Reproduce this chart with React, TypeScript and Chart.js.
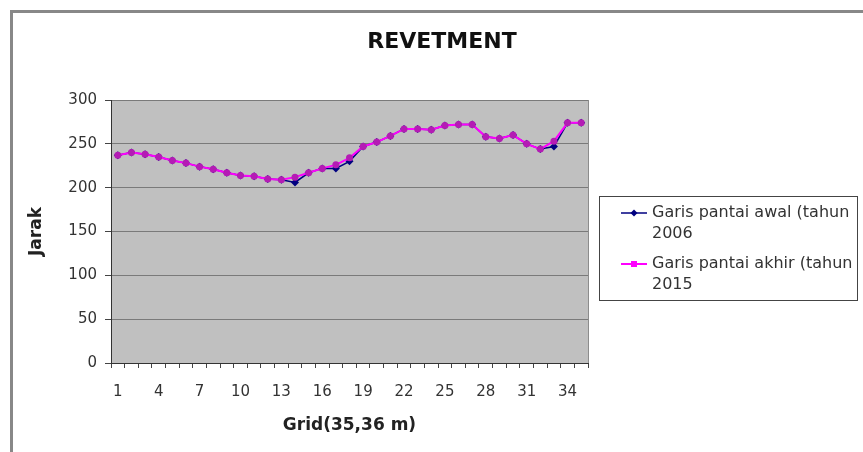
import React, { useEffect, useRef } from "react";
import { Chart, registerables } from "chart.js";

Chart.register(...registerables);

// Chart texts
const chartTitle = "REVETMENT";
const xAxisTitle = "Grid(35,36 m)";
const yAxisTitle = "Jarak";

// Grid numbers along the shoreline
const categories = [
  "1", "2", "3", "4", "5", "6", "7", "8", "9", "10",
  "11", "12", "13", "14", "15", "16", "17", "18", "19", "20",
  "21", "22", "23", "24", "25", "26", "27", "28", "29", "30",
  "31", "32", "33", "34", "35",
];

// Shoreline distance, initial survey (2006)
const awal2006 = [
  237, 240, 238, 235, 231, 228, 224, 221, 217, 214,
  213, 210, 209, 206, 217, 222, 222, 230, 247, 252,
  259, 267, 267, 266, 271, 272, 272, 258, 256, 260,
  250, 244, 247, 274, 274,
];

// Shoreline distance, final survey (2015)
const akhir2015 = [
  237, 240, 238, 235, 231, 228, 224, 221, 217, 214,
  213, 210, 209, 212, 217, 222, 226, 234, 247, 252,
  259, 267, 267, 266, 271, 272, 272, 258, 256, 260,
  250, 244, 253, 274, 274,
];

// Legend entries, each wrapped over two lines
const legendAwal = ["Garis pantai awal (tahun", "2006"];
const legendAkhir = ["Garis pantai akhir (tahun", "2015"];

// Value axis range
const yMin = 0;
const yMax = 300;
const yStep = 50;
const labelEvery = 3;

const FONT = "'DejaVu Sans', 'Liberation Sans', Arial, sans-serif";

const decorations = {
  id: "decorations",
  beforeDatasetsDraw(chart: any) {
    // grey plot background is painted before grid lines
  },
  beforeDraw(chart: any) {
    const { ctx, chartArea: a } = chart;
    ctx.save();
    ctx.fillStyle = "#c0c0c0";
    ctx.fillRect(a.left, a.top, a.right - a.left, a.bottom - a.top);
    ctx.strokeStyle = "#8c8c8c";
    ctx.lineWidth = 1;
    ctx.beginPath();
    ctx.moveTo(a.right + 0.5, a.top);
    ctx.lineTo(a.right + 0.5, a.bottom);
    ctx.stroke();
    ctx.restore();
  },
  afterDraw(chart: any) {
    const { ctx, chartArea: a } = chart;
    ctx.save();

    // chart title, centred over the whole frame
    ctx.fillStyle = "#111";
    ctx.font = `bold 22px ${FONT}`;
    ctx.textAlign = "center";
    ctx.textBaseline = "middle";
    ctx.fillText(chartTitle, 442, 42);

    // legend box
    const boxL = a.right + 11;
    const boxT = 196;
    const boxW = 258;
    const boxH = 104;
    ctx.fillStyle = "#ffffff";
    ctx.fillRect(boxL, boxT, boxW, boxH);
    ctx.strokeStyle = "#444";
    ctx.lineWidth = 1;
    ctx.strokeRect(boxL + 0.5, boxT + 0.5, boxW, boxH);

    const entries = [
      { lines: legendAwal, ds: chart.data.datasets[0] },
      { lines: legendAkhir, ds: chart.data.datasets[1] },
    ];
    entries.forEach((e, i) => {
      const y = boxT + 17 + i * 51;
      const x0 = boxL + 22;
      const x1 = boxL + 48;
      ctx.strokeStyle = e.ds.borderColor;
      ctx.lineWidth = e.ds.borderWidth;
      ctx.beginPath();
      ctx.moveTo(x0, y);
      ctx.lineTo(x1, y);
      ctx.stroke();
      const cx = (x0 + x1) / 2;
      ctx.fillStyle = e.ds.legendMarker;
      if (e.ds.pointStyle === "rectRot") {
        ctx.beginPath();
        ctx.moveTo(cx, y - 3.5);
        ctx.lineTo(cx + 3.5, y);
        ctx.lineTo(cx, y + 3.5);
        ctx.lineTo(cx - 3.5, y);
        ctx.closePath();
        ctx.fill();
      } else {
        ctx.fillRect(cx - 3, y - 3, 6, 6);
      }
      ctx.fillStyle = "#333";
      ctx.font = `16px ${FONT}`;
      ctx.textAlign = "left";
      ctx.textBaseline = "middle";
      e.lines.forEach((t, j) => ctx.fillText(t, boxL + 53, y + j * 21));
    });
    ctx.restore();
  },
};

export default function App() {
  const canvasRef = useRef<HTMLCanvasElement | null>(null);

  useEffect(() => {
    const canvas = canvasRef.current;
    if (!canvas) return;
    const chart = new Chart(canvas, {
      type: "line",
      data: {
        labels: categories,
        datasets: [
          {
            label: legendAwal.join(" "),
            data: awal2006,
            borderColor: "#000080",
            backgroundColor: "#000080",
            borderWidth: 1.5,
            pointStyle: "rectRot",
            pointRadius: 4,
            pointBackgroundColor: "#000080",
            pointBorderColor: "#000080",
            pointBorderWidth: 0,
            legendMarker: "#000080",
            order: 2,
            tension: 0,
          } as any,
          {
            label: legendAkhir.join(" "),
            data: akhir2015,
            borderColor: "#ff00ff",
            backgroundColor: "#ff00ff",
            borderWidth: 2,
            pointStyle: "circle",
            pointRadius: 3.5,
            pointBackgroundColor: "#b41cb4",
            pointBorderColor: "#b41cb4",
            pointBorderWidth: 0,
            legendMarker: "#ff00ff",
            order: 1,
            tension: 0,
          } as any,
        ],
      },
      options: {
        animation: false,
        responsive: false,
        devicePixelRatio: 1,
        layout: { padding: { left: 0, right: 275, top: 100, bottom: 0 } },
        plugins: {
          legend: { display: false },
          title: { display: false },
          tooltip: { enabled: false },
        },
        scales: {
          x: {
            type: "category",
            offset: true,
            afterFit: (s: any) => {
              s.height = 89;
            },
            grid: {
              display: true,
              offset: true,
              drawOnChartArea: false,
              drawTicks: true,
              tickLength: 5,
              color: "#444",
            },
            border: { display: true, color: "#333", width: 1 },
            ticks: {
              autoSkip: false,
              maxRotation: 0,
              padding: 15,
              color: "#333",
              font: { family: FONT, size: 15 },
              callback: (_v: any, i: number) =>
                i % labelEvery === 0 ? categories[i] : "",
            },
            title: {
              display: true,
              text: xAxisTitle,
              color: "#222",
              font: { family: FONT, size: 17, weight: "bold" },
              padding: { top: 0, bottom: 16 },
            },
          },
          y: {
            min: yMin,
            max: yMax,
            afterFit: (s: any) => {
              s.width = 111;
            },
            grid: {
              color: "#7a7a7a",
              drawTicks: true,
              tickLength: 6,
              tickColor: "#444",
            },
            border: { display: true, color: "#333", width: 1 },
            ticks: {
              stepSize: yStep,
              padding: 8,
              color: "#333",
              font: { family: FONT, size: 15 },
            },
            title: {
              display: true,
              text: yAxisTitle,
              color: "#222",
              font: { family: FONT, size: 17, weight: "bold" },
              padding: { top: 26, bottom: 0 },
            },
          },
        },
      } as any,
      plugins: [decorations as any],
    });
    return () => chart.destroy();
  }, []);

  return (
    <div
      style={{
        position: "fixed",
        left: 0,
        top: 0,
        width: 863,
        height: 452,
        overflow: "hidden",
        background: "#ffffff",
      }}
    >
      <div
        style={{
          position: "absolute",
          left: 10,
          top: 10,
          width: 900,
          height: 500,
          borderTop: "3px solid #888",
          borderLeft: "3px solid #888",
        }}
      />
      <canvas
        ref={canvasRef}
        width={863}
        height={452}
        style={{ position: "absolute", left: 0, top: 0, width: 863, height: 452 }}
      />
    </div>
  );
}
